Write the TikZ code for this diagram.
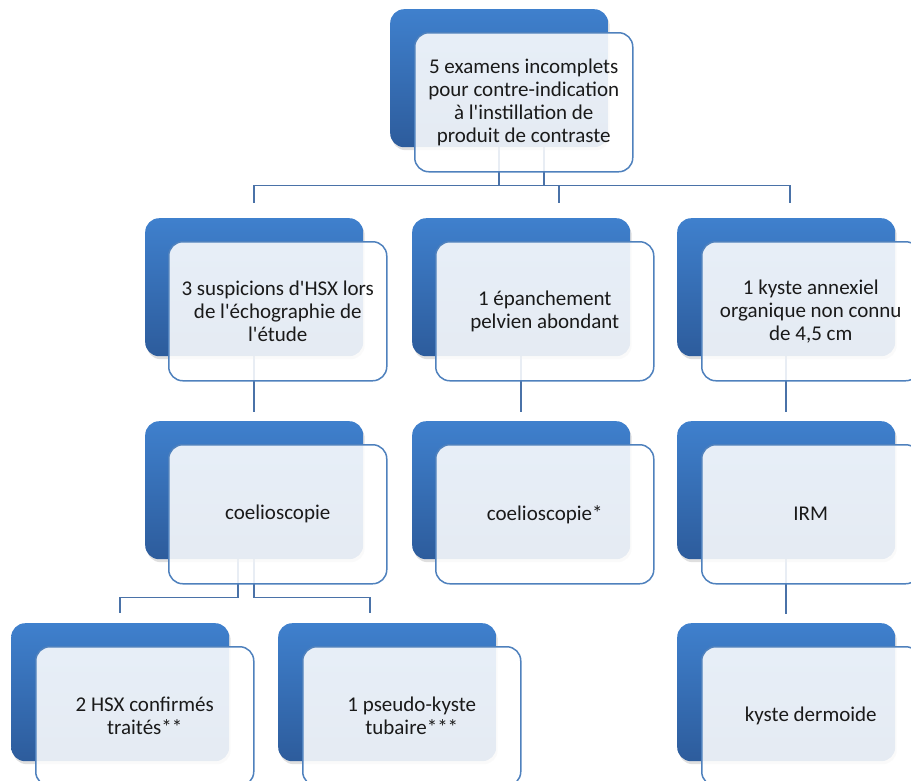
\documentclass[tikz,border=0pt]{standalone}
\usepackage{fontspec}
\setmainfont{Carlito}[Ligatures=TeXOff]
\usetikzlibrary{shadows}
\definecolor{bluetop}{HTML}{3F80CD}
\definecolor{bluebot}{HTML}{2D5C9C}
\definecolor{edgeblue}{HTML}{4F81BD}
\definecolor{linkblue}{HTML}{4A72A8}
\definecolor{txt}{HTML}{1A1A1A}
\pgfdeclarelayer{bg}
\pgfsetlayers{bg,main}
\tikzset{
  backbox/.style={rectangle, rounded corners=14pt, minimum width=218pt, minimum height=138pt,
    anchor=north west, inner sep=0pt, top color=bluetop, bottom color=bluebot, draw=none,
    drop shadow={opacity=0.25, shadow xshift=1.5pt, shadow yshift=-3pt}},
  frontbox/.style={rectangle, rounded corners=14pt, minimum width=218pt, minimum height=139pt,
    anchor=north west, inner sep=2pt, draw=edgeblue, line width=1.5pt, fill=white,
    fill opacity=0.88, text opacity=1, align=center, text=txt,
    font=\fontsize{21}{23}\selectfont},
  link/.style={draw=linkblue, line width=1.6pt},
}
\begin{document}
\begin{tikzpicture}[x=1pt, y=-1pt]
\useasboundingbox (0,0) rectangle (911,780);
\clip (0,0) rectangle (911,780);
% top
\node[backbox] (Tb) at (390,9) {};
\node[frontbox] (T) at (414,32) {5 examens incomplets\\pour contre-indication\\à l'instillation de\\produit de contraste};
% row 1
\node[backbox] (Ab) at (145,218) {};
\node[frontbox] (A) at (168,241) {3 suspicions d'HSX lors\\de l'échographie de\\l'étude};
\node[backbox] (Bb) at (412,218) {};
\node[frontbox] (B) at (435,241) {1 épanchement\\pelvien abondant};
\node[backbox] (Cb) at (677,218) {};
\node[frontbox] (C) at (701,241) {1 kyste annexiel\\organique non connu\\de 4,5 cm};
% row 2
\node[backbox] (A2b) at (145,421) {};
\node[frontbox] (A2) at (168,444) {coelioscopie};
\node[backbox] (B2b) at (412,421) {};
\node[frontbox] (B2) at (435,444) {coelioscopie*};
\node[backbox] (C2b) at (677,421) {};
\node[frontbox] (C2) at (701,444) {IRM};
% row 3
\node[backbox] (A3b) at (11,623) {};
\node[frontbox] (A3) at (35,646) {2 HSX confirmés\\traités**};
\node[backbox] (B3b) at (278,623) {};
\node[frontbox] (B3) at (302,646) {1 pseudo-kyste\\tubaire***};
\node[backbox] (C3b) at (677,623) {};
\node[frontbox] (C3) at (701,646) {kyste dermoide};
% connectors
\begin{pgfonlayer}{bg}
\draw[link] ([xshift=45pt]Tb.south) -- ++(0,38) -| ([yshift=15pt]Ab.north);
\draw[link] (Tb.south) -- ++(0,38) -| ([xshift=38pt,yshift=15pt]Bb.north);
\draw[link] (Tb.south) -- ++(0,38) -| ([xshift=4pt,yshift=15pt]Cb.north);
\draw[link] (Ab.south) -- ([yshift=9pt]A2b.north);
\draw[link] (Bb.south) -- ([yshift=9pt]B2b.north);
\draw[link] (Cb.south) -- ([yshift=9pt]C2b.north);
\draw[link] ([xshift=-16pt]A2b.south) -- ++(0,38) -| ([yshift=10pt]A3b.north);
\draw[link] (A2b.south) -- ++(0,38) -| ([xshift=-17pt,yshift=10pt]B3b.north);
\draw[link] (C2b.south) -- ([yshift=9pt]C3b.north);
\end{pgfonlayer}
\end{tikzpicture}
\end{document}
